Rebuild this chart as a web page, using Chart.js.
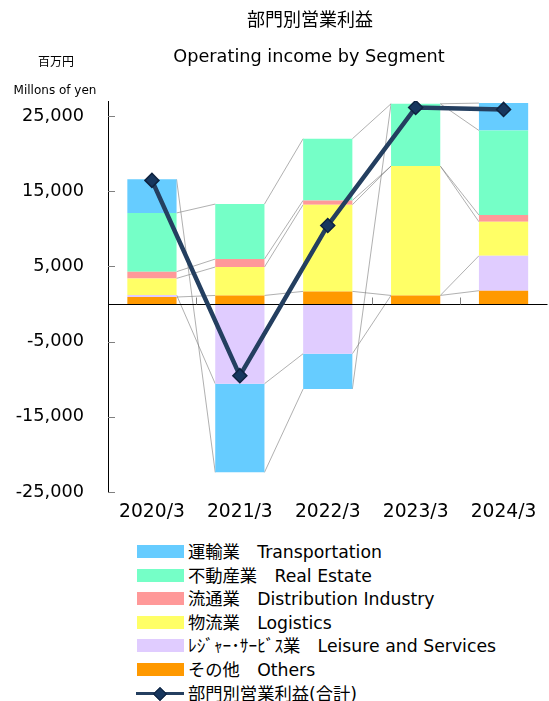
<!DOCTYPE html>
<html lang="ja">
<head>
<meta charset="utf-8">
<title>部門別営業利益</title>
<script src="https://cdn.jsdelivr.net/npm/chart.js@4.4.1/dist/chart.umd.min.js"></script>
<style>
  html, body { margin: 0; padding: 0; background: #fff; overflow: hidden; }
  #wrap { position: relative; width: 549px; height: 701px; overflow: hidden; }
  #chart { position: absolute; left: 0; top: 0; }
  .txt { position: absolute; white-space: nowrap; line-height: 1; color: #000; transform: translate(-50%, -50%); }
  .jp { font-family: "Noto Sans CJK JP", sans-serif; }
  .en { font-family: "DejaVu Sans", sans-serif; }
  .row { position: absolute; left: 0; width: 549px; height: 24px;
         font: 17.3px "DejaVu Sans", "Noto Sans CJK JP", sans-serif; color: #000; white-space: nowrap; }
  .sw { position: absolute; left: 137px; width: 47px; height: 13px; top: 5px; }
  .ln { position: absolute; left: 136px; width: 48px; height: 3px; top: 10px; background: #243F60; }
  .dm { position: absolute; left: 155px; top: 7px; width: 8px; height: 8px; background: #17375E;
        border: 1px solid #0E2340; transform: rotate(45deg); }
  .lt { position: absolute; left: 188px; top: 0; height: 24px; line-height: 24px; }
</style>
</head>
<body>
<div id="wrap">
  <canvas id="chart" width="556" height="540"></canvas>
  <div class="txt jp" style="left:310px; top:18px; font-size:18px;">部門別営業利益</div>
  <div class="txt en" style="left:309px; top:57px; font-size:17.7px;">Operating income by Segment</div>
  <div class="txt jp" style="left:56px; top:61px; font-size:12px;">百万円</div>
  <div class="txt en" style="left:55px; top:90px; font-size:12px;">Millons of yen</div>
  <div id="legend"></div>
</div>
<script>
// ── Operating income by segment (millions of yen) ──

const categories     = ['2020/3', '2021/3', '2022/3', '2023/3', '2024/3'];
const transportation = [4470, -11790, -4690, 0, 3640];
const realEstate     = [7810, 7310, 8200, 8280, 11250];
const distribution   = [890, 1060, 570, 0, 890];
const logistics      = [2210, 3780, 11530, 17210, 4520];
const leisure        = [270, -10600, -6610, 0, 4650];
const others         = [930, 1140, 1680, 1140, 1770];
const totalIncome    = [16440, -9530, 10450, 26140, 25880];
const yTicks         = [-25000, -15000, -5000, 5000, 15000, 25000];

const names = {
  transportation: '運輸業　Transportation',
  realEstate:     '不動産業　Real Estate',
  distribution:   '流通業　Distribution Industry',
  logistics:      '物流業　Logistics',
  leisure:        'ﾚｼﾞｬｰ･ｻｰﾋﾞｽ業　Leisure and Services',
  others:         'その他　Others',
  total:          '部門別営業利益(合計)'
};

const bar = (label, data, color) => ({
  type: 'bar', label, data, backgroundColor: color, stack: 'seg', order: 1,
  barPercentage: 0.56, categoryPercentage: 1, borderWidth: 0
});

// stacking order = bottom to top
const datasets = [
  bar(names.others, others, '#FF9900'),
  bar(names.leisure, leisure, '#E0CCFF'),
  bar(names.logistics, logistics, '#FFFF66'),
  bar(names.distribution, distribution, '#FF9999'),
  bar(names.realEstate, realEstate, '#75FFC7'),
  bar(names.transportation, transportation, '#66CCFF'),
  {
    type: 'line', label: names.total, data: totalIncome, stack: 'total', order: 0,
    borderColor: '#243F60', borderWidth: 4.5, tension: 0,
    pointStyle: 'rectRot', pointRadius: 7, pointBackgroundColor: '#17375E',
    pointBorderColor: '#0E2340', pointBorderWidth: 1.5
  }
];

// Excel-style series lines between stacked segments
const seriesLines = {
  id: 'seriesLines',
  beforeDatasetsDraw(chart) {
    const c = chart.ctx;
    c.save();
    c.strokeStyle = '#7a7a7a';
    c.lineWidth = 0.6;
    chart.data.datasets.forEach((ds, di) => {
      if (ds.type !== 'bar') return;
      const els = chart.getDatasetMeta(di).data;
      for (let i = 0; i < els.length - 1; i++) {
        const a = els[i], b = els[i + 1];
        c.beginPath();
        c.moveTo(a.x + a.width / 2, a.y);
        c.lineTo(b.x - b.width / 2, b.y);
        c.stroke();
      }
    });
    c.restore();
  }
};

// zero line + inside tick marks, drawn right after the last bar layer
const excelAxes = {
  id: 'excelAxes',
  afterDatasetDraw(chart, args) {
    if (args.index !== 0) return;
    const { ctx: c, chartArea: { left, right }, scales: { x, y } } = chart;
    const y0 = Math.round(y.getPixelForValue(0)) + 0.5;
    c.save();
    c.lineWidth = 1;
    c.strokeStyle = '#000';
    c.beginPath();
    c.moveTo(left, y0);
    c.lineTo(right, y0);
    c.stroke();
    c.strokeStyle = '#808080';
    c.beginPath();
    yTicks.forEach(v => {
      const py = Math.round(y.getPixelForValue(v)) + 0.5;
      c.moveTo(left, py);
      c.lineTo(left + 7, py);
    });
    for (let i = 1; i < categories.length; i++) {
      const px = Math.round((x.getPixelForValue(i - 1) + x.getPixelForValue(i)) / 2) + 0.5;
      c.moveTo(px, y0);
      c.lineTo(px, y0 - 7);
    }
    c.stroke();
    c.restore();
  }
};

const chart = new Chart(document.getElementById('chart'), {
  data: { labels: categories, datasets },
  options: {
    responsive: false,
    devicePixelRatio: 1,
    animation: false,
    layout: { padding: { top: 101, right: 1.5, bottom: 0, left: 0 } },
    plugins: { legend: { display: false }, tooltip: { enabled: false } },
    scales: {
      x: {
        stacked: true,
        grid: { display: false, drawTicks: false },
        border: { display: false },
        ticks: { color: '#000', padding: 8.5, font: { family: 'DejaVu Sans', size: 18.7 }, maxRotation: 0 },
        afterFit(s) { s.height = 48; }
      },
      y: {
        stacked: true,
        min: -25000,
        max: 27000,
        grid: { display: false, drawTicks: false },
        border: { display: true, color: '#000', width: 1 },
        ticks: {
          color: '#000', padding: 24, font: { family: 'DejaVu Sans', size: 17.7 },
          callback: v => v.toLocaleString('en-US')
        },
        afterBuildTicks(s) { s.ticks = yTicks.map(v => ({ value: v })); },
        afterFit(s) { s.width = 108; }
      }
    }
  },
  plugins: [seriesLines, excelAxes]
});

// HTML legend, one item per row
const legendOrder = [5, 4, 3, 2, 1, 0, 6];
document.getElementById('legend').innerHTML = legendOrder.map((di, row) => {
  const ds = chart.data.datasets[di];
  const top = 540 + row * 23.6;
  const mark = ds.type === 'bar'
    ? `<span class="sw" style="background:${ds.backgroundColor}"></span>`
    : '<span class="ln"></span><span class="dm"></span>';
  return `<div class="row" style="top:${top}px">${mark}<span class="lt">${ds.label}</span></div>`;
}).join('');
</script>
</body>
</html>
